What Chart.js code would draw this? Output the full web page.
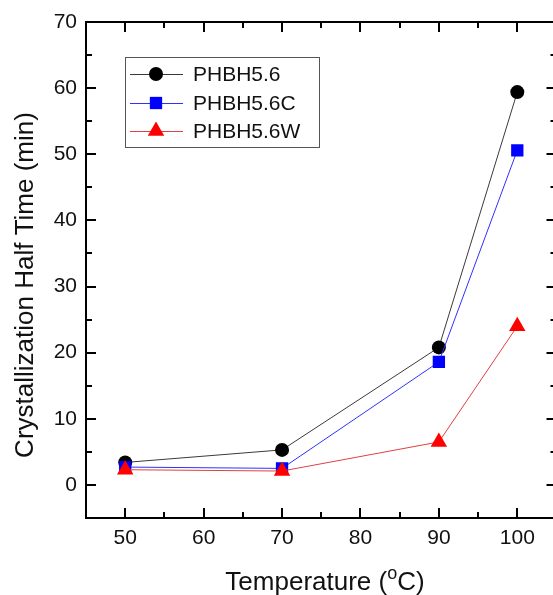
<!DOCTYPE html>
<html>
<head>
<meta charset="utf-8">
<script src="https://cdn.jsdelivr.net/npm/chart.js@4/dist/chart.umd.min.js"></script>
<style>
  html, body { margin: 0; padding: 0; background: #fff; overflow: hidden; }
  #wrap { width: 566px; height: 595px; }
</style>
</head>
<body>
<div id="wrap"><canvas id="c" width="566" height="595"></canvas></div>
<script>
// Isothermal crystallization half time versus temperature
const temperatures = [50, 70, 90, 100];
const seriesNames = ['PHBH5.6', 'PHBH5.6C', 'PHBH5.6W'];
const halfTimePHBH56 = [3.4, 5.3, 20.8, 59.4];
const halfTimePHBH56C = [2.7, 2.5, 18.6, 50.6];
const halfTimePHBH56W = [2.3, 2.1, 6.5, 24.0];
const xTickLabels = [50, 60, 70, 80, 90, 100];
const yTickLabels = [0, 10, 20, 30, 40, 50, 60, 70];

const FONT = 'Arial, "Liberation Sans", Helvetica, sans-serif';

function pts(values) {
  return temperatures.map((t, i) => ({ x: t, y: values[i] }));
}

const styles = [
  { line: '#3a3a3a', fill: '#000000', shape: 'circle', r: 7 },
  { line: '#3030ff', fill: '#0000ff', shape: 'rect', r: 8.7 },
  { line: '#e04040', fill: '#ff0000', shape: 'triangle', r: 9.5 }
];
const seriesValues = [halfTimePHBH56, halfTimePHBH56C, halfTimePHBH56W];

const datasets = seriesValues.map((vals, i) => ({
  label: seriesNames[i],
  data: pts(vals),
  showLine: true,
  borderColor: styles[i].line,
  borderWidth: 1,
  backgroundColor: styles[i].fill,
  pointBackgroundColor: styles[i].fill,
  pointBorderColor: styles[i].fill,
  pointBorderWidth: 0,
  pointStyle: styles[i].shape,
  pointRadius: styles[i].r,
  pointHoverRadius: styles[i].r,
  order: 3 - i,
  tension: 0
}));

// Frame, inward tick marks, axis titles and the boxed legend
const framePlugin = {
  id: 'frame',
  afterDraw(chart) {
    const ctx = chart.ctx;
    const a = chart.chartArea;
    const xs = chart.scales.x, ys = chart.scales.y;
    ctx.save();
    ctx.strokeStyle = '#000';
    ctx.lineWidth = 2;
    ctx.strokeRect(a.left, a.top, a.right - a.left, a.bottom - a.top);

    ctx.lineWidth = 2;
    ctx.beginPath();
    for (let v = 45; v <= 105; v += 5) {
      const px = Math.round(xs.getPixelForValue(v));
      const len = (v % 10 === 0) ? 10 : 6;
      if (px <= a.left + 1 || px >= a.right - 1) continue;
      ctx.moveTo(px, a.bottom); ctx.lineTo(px, a.bottom - len);
      ctx.moveTo(px, a.top); ctx.lineTo(px, a.top + len);
    }
    for (let v = -5; v <= 70; v += 5) {
      const py = Math.round(ys.getPixelForValue(v));
      const len = (v % 10 === 0) ? 10 : 6;
      if (py <= a.top + 1 || py >= a.bottom - 1) continue;
      ctx.moveTo(a.left, py); ctx.lineTo(a.left + len, py);
      ctx.moveTo(a.right, py); ctx.lineTo(a.right - len, py);
    }
    ctx.stroke();

    // x title with superscript degree mark
    ctx.fillStyle = '#111';
    ctx.textBaseline = 'alphabetic';
    ctx.textAlign = 'left';
    const mainFont = '26px ' + FONT;
    const supFont = '18px ' + FONT;
    ctx.font = mainFont;
    const p1 = 'Temperature (';
    const p3 = 'C)';
    const w1 = ctx.measureText(p1).width;
    const w3 = ctx.measureText(p3).width;
    ctx.font = supFont;
    const w2 = ctx.measureText('o').width;
    const total = w1 + w2 + w3;
    let x0 = 325 - total / 2;
    const base = 590;
    ctx.font = mainFont;
    ctx.fillText(p1, x0, base);
    ctx.font = supFont;
    ctx.fillText('o', x0 + w1, base - 11);
    ctx.font = mainFont;
    ctx.fillText(p3, x0 + w1 + w2, base);

    // y title
    ctx.save();
    ctx.translate(33, 285);
    ctx.rotate(-Math.PI / 2);
    ctx.textAlign = 'center';
    ctx.font = mainFont;
    ctx.fillText('Crystallization Half Time (min)', 0, 0);
    ctx.restore();

    // legend box
    const lb = { left: 125, top: 57, right: 319, bottom: 147 };
    ctx.lineWidth = 1;
    ctx.strokeStyle = '#555';
    ctx.strokeRect(lb.left + 0.5, lb.top + 0.5, lb.right - lb.left, lb.bottom - lb.top);
    const rowY = [74, 103, 131];
    ctx.font = '21px ' + FONT;
    ctx.textAlign = 'left';
    ctx.textBaseline = 'middle';
    chart.data.datasets.forEach((ds, i) => {
      const y = rowY[i];
      ctx.strokeStyle = ds.borderColor;
      ctx.lineWidth = 1;
      ctx.beginPath();
      ctx.moveTo(130, y + 0.5); ctx.lineTo(183, y + 0.5);
      ctx.stroke();
      ctx.fillStyle = ds.pointBackgroundColor;
      ctx.strokeStyle = ds.pointBorderColor;
      Chart.helpers.drawPoint(ctx, {
        pointStyle: ds.pointStyle, radius: ds.pointRadius, rotation: 0, borderWidth: 0
      }, 156, y);
      ctx.fillStyle = '#111';
      ctx.fillText(ds.label, 193, y + 1);
    });
    ctx.restore();
  }
};

new Chart(document.getElementById('c'), {
  type: 'scatter',
  data: { datasets },
  options: {
    responsive: false,
    animation: false,
    events: [],
    layout: { padding: { left: 0, top: 22, right: 3, bottom: 0 } },
    plugins: { legend: { display: false }, tooltip: { enabled: false } },
    scales: {
      x: {
        type: 'linear', min: 45, max: 105,
        grid: { display: false, drawTicks: false },
        border: { display: false },
        afterFit(s) { s.height = 77; },
        afterBuildTicks(s) { s.ticks = xTickLabels.map(v => ({ value: v })); },
        ticks: { color: '#111', font: { family: FONT, size: 21 }, padding: 8, maxRotation: 0 }
      },
      y: {
        type: 'linear', min: -5, max: 70,
        grid: { display: false, drawTicks: false },
        border: { display: false },
        afterFit(s) { s.width = 86; },
        afterBuildTicks(s) { s.ticks = yTickLabels.map(v => ({ value: v })); },
        ticks: { color: '#111', font: { family: FONT, size: 21 }, padding: 9 }
      }
    }
  },
  plugins: [framePlugin]
});
</script>
</body>
</html>
